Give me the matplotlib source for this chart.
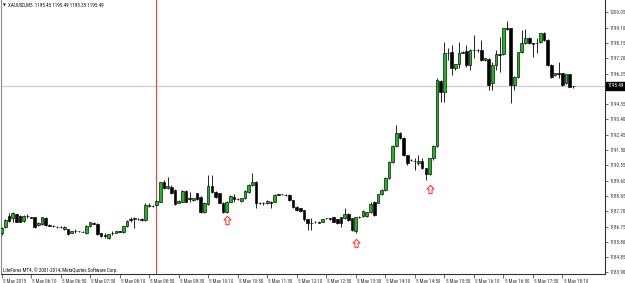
import matplotlib
matplotlib.use("Agg")
import matplotlib.pyplot as plt
import matplotlib.transforms as mtransforms
from matplotlib import font_manager as fm
from matplotlib.path import Path

# ---------------- data (XAUUSD M5, 5 May 2015 05:30 .. 18:25) ----------------
opens = [
    1186.33, 1186.70, 1187.40, 1187.26, 1187.50, 1187.40, 1187.11, 1187.40, 1187.32, 1187.32,
    1186.84, 1186.90, 1187.30, 1186.86, 1186.78, 1186.74, 1186.72, 1186.59, 1186.57, 1186.37,
    1186.46, 1186.45, 1186.43, 1186.33, 1186.78, 1186.95, 1186.90, 1186.33, 1186.20, 1186.01,
    1186.37, 1186.37, 1186.44, 1186.40, 1186.78, 1187.19, 1187.19, 1187.22, 1187.20, 1187.15,
    1188.00, 1188.02, 1188.09, 1188.29, 1189.49, 1189.12, 1189.22, 1189.02, 1188.23, 1188.29,
    1188.97, 1188.50, 1188.40, 1188.81, 1188.60, 1187.67, 1188.15, 1189.26, 1188.91, 1188.81,
    1188.23, 1187.67, 1188.29, 1188.56, 1188.45, 1188.35, 1188.50, 1188.91, 1189.33, 1189.53,
    1188.23, 1188.23, 1188.19, 1188.29, 1188.29, 1188.75, 1188.75, 1188.71, 1188.71, 1188.39,
    1187.98, 1187.88, 1187.77, 1187.19, 1186.99, 1187.05, 1186.99, 1187.05, 1187.26, 1187.26,
    1187.32, 1187.19, 1187.32, 1187.26, 1187.52, 1187.26, 1186.49, 1187.36, 1187.40, 1187.42,
    1187.67, 1188.29, 1188.23, 1188.75, 1189.02, 1189.74, 1190.76, 1191.75, 1192.54, 1192.27,
    1191.19, 1190.88, 1190.82, 1190.71, 1190.82, 1190.36, 1190.01, 1190.98, 1191.75, 1195.81,
    1195.12, 1197.55, 1197.61, 1196.57, 1196.82, 1197.55, 1197.67, 1196.78, 1197.71, 1197.71,
    1197.71, 1197.09, 1197.13, 1195.64, 1196.78, 1197.44, 1197.44, 1199.06, 1199.06, 1195.54,
    1196.05, 1197.57, 1198.13, 1198.48, 1198.13, 1198.13, 1198.23, 1198.75, 1198.33, 1196.78,
    1196.16, 1196.26, 1196.26, 1195.64, 1196.20, 1195.45,
]
highs = [
    1186.70, 1187.20, 1187.61, 1187.67, 1187.55, 1187.45, 1187.45, 1187.50, 1187.36, 1187.36,
    1187.02, 1187.36, 1187.34, 1186.92, 1186.82, 1186.78, 1186.76, 1186.78, 1186.62, 1186.50,
    1186.60, 1186.50, 1186.48, 1186.82, 1187.05, 1187.00, 1186.95, 1186.36, 1186.33, 1186.30,
    1186.45, 1186.50, 1186.48, 1186.80, 1187.15, 1187.32, 1187.36, 1187.28, 1187.25, 1188.18,
    1188.20, 1188.10, 1188.40, 1189.53, 1189.64, 1189.84, 1189.30, 1189.05, 1188.40, 1189.02,
    1189.00, 1188.91, 1188.55, 1188.85, 1188.65, 1188.28, 1189.95, 1189.95, 1188.95, 1188.85,
    1188.28, 1188.33, 1188.68, 1188.75, 1188.50, 1188.55, 1189.00, 1189.40, 1190.05, 1189.60,
    1188.30, 1188.30, 1188.40, 1188.35, 1188.75, 1188.80, 1188.80, 1188.78, 1188.75, 1188.42,
    1188.02, 1187.92, 1187.80, 1187.22, 1187.26, 1187.10, 1187.08, 1187.22, 1187.30, 1187.30,
    1187.35, 1187.22, 1187.36, 1187.88, 1187.56, 1187.30, 1187.36, 1187.42, 1187.78, 1187.68,
    1188.25, 1188.33, 1188.80, 1189.08, 1189.80, 1190.82, 1191.80, 1193.05, 1192.60, 1192.30,
    1191.22, 1190.92, 1190.98, 1191.19, 1190.98, 1190.40, 1191.02, 1191.80, 1195.95, 1195.85,
    1198.23, 1197.81, 1198.02, 1196.86, 1198.23, 1197.66, 1198.02, 1197.75, 1198.64, 1197.75,
    1198.33, 1197.22, 1197.19, 1196.99, 1197.71, 1198.54, 1199.10, 1199.51, 1199.10, 1196.10,
    1197.62, 1198.95, 1199.02, 1198.52, 1198.16, 1198.44, 1198.80, 1198.85, 1198.38, 1196.82,
    1196.30, 1196.99, 1196.30, 1196.25, 1196.25, 1195.49,
]
lows = [
    1186.25, 1186.65, 1187.05, 1187.05, 1187.00, 1187.00, 1187.05, 1187.26, 1187.26, 1186.63,
    1186.80, 1186.86, 1186.80, 1186.76, 1186.72, 1186.68, 1186.66, 1186.55, 1186.24, 1186.33,
    1186.37, 1186.40, 1186.38, 1186.30, 1186.74, 1186.88, 1186.25, 1186.12, 1186.05, 1185.98,
    1186.22, 1186.35, 1186.38, 1186.37, 1186.74, 1187.05, 1186.63, 1187.15, 1187.12, 1187.10,
    1187.95, 1187.95, 1188.05, 1188.25, 1189.05, 1189.05, 1188.75, 1188.10, 1188.19, 1188.25,
    1188.25, 1188.29, 1188.35, 1188.39, 1187.62, 1187.62, 1188.10, 1188.85, 1188.55, 1188.19,
    1187.62, 1187.57, 1188.25, 1188.29, 1188.39, 1188.30, 1188.45, 1188.85, 1189.28, 1187.88,
    1188.15, 1188.10, 1188.15, 1187.88, 1188.25, 1188.68, 1188.68, 1188.62, 1188.35, 1187.92,
    1187.70, 1187.68, 1187.12, 1186.53, 1186.53, 1186.98, 1186.95, 1187.02, 1187.20, 1187.18,
    1187.00, 1186.92, 1186.74, 1187.22, 1187.10, 1186.49, 1186.32, 1187.28, 1187.36, 1187.36,
    1187.62, 1187.40, 1188.18, 1188.70, 1188.98, 1189.70, 1190.70, 1191.70, 1192.20, 1191.15,
    1190.57, 1190.80, 1190.26, 1190.57, 1190.30, 1189.64, 1189.95, 1190.90, 1191.70, 1194.50,
    1194.50, 1197.09, 1196.16, 1196.50, 1196.57, 1197.50, 1196.68, 1196.47, 1197.24, 1197.62,
    1197.05, 1197.05, 1195.23, 1195.23, 1196.47, 1196.37, 1197.40, 1198.95, 1194.40, 1195.23,
    1196.00, 1197.52, 1198.08, 1198.08, 1197.30, 1197.50, 1198.18, 1198.28, 1196.72, 1195.95,
    1196.12, 1195.95, 1195.45, 1195.60, 1195.40, 1195.35,
]
closes = [
    1186.65, 1187.15, 1187.11, 1187.57, 1187.05, 1187.05, 1187.40, 1187.38, 1187.30, 1186.74,
    1186.99, 1187.32, 1186.84, 1186.80, 1186.76, 1186.72, 1186.70, 1186.74, 1186.28, 1186.47,
    1186.48, 1186.44, 1186.42, 1186.78, 1187.01, 1186.93, 1186.28, 1186.18, 1186.18, 1186.28,
    1186.36, 1186.47, 1186.43, 1186.78, 1187.11, 1187.18, 1187.30, 1187.20, 1187.18, 1188.10,
    1188.06, 1188.00, 1188.34, 1189.49, 1189.12, 1189.26, 1188.81, 1188.15, 1188.35, 1188.97,
    1188.29, 1188.48, 1188.50, 1188.44, 1187.67, 1188.23, 1189.26, 1188.91, 1188.60, 1188.23,
    1187.67, 1188.29, 1188.64, 1188.44, 1188.43, 1188.50, 1188.95, 1189.33, 1189.53, 1188.19,
    1188.22, 1188.21, 1188.35, 1188.19, 1188.71, 1188.73, 1188.74, 1188.70, 1188.39, 1187.98,
    1187.77, 1187.73, 1187.19, 1186.95, 1186.98, 1187.04, 1187.05, 1187.19, 1187.25, 1187.24,
    1187.05, 1186.99, 1186.99, 1187.52, 1187.15, 1186.53, 1187.32, 1187.34, 1187.73, 1187.63,
    1188.15, 1187.46, 1188.75, 1189.02, 1189.74, 1190.76, 1191.75, 1192.54, 1192.27, 1191.19,
    1190.67, 1190.86, 1190.80, 1190.82, 1190.36, 1190.01, 1190.98, 1191.75, 1195.85, 1195.12,
    1197.55, 1197.53, 1196.57, 1196.82, 1197.55, 1197.61, 1196.78, 1197.71, 1197.69, 1197.69,
    1197.09, 1197.19, 1195.54, 1196.78, 1197.44, 1197.42, 1199.06, 1199.04, 1195.54, 1196.05,
    1197.57, 1198.13, 1198.44, 1198.13, 1198.11, 1198.12, 1198.75, 1198.33, 1196.78, 1196.05,
    1196.26, 1196.24, 1195.54, 1196.20, 1195.43, 1195.49,
]

price_ticks = [1183.90, 1184.85, 1185.80, 1186.75, 1187.70, 1188.65, 1189.60, 1190.55,
               1191.50, 1192.45, 1193.40, 1194.35, 1195.30, 1196.25, 1197.20, 1198.15,
               1199.10, 1200.05]
time_tick_bars = [0, 8, 16, 24, 32, 40, 48, 56, 64, 72, 80, 88, 96, 104, 112, 120,
                  128, 136, 144, 152]
time_tick_labels = ["5 May 2015", "5 May 06:10", "5 May 06:50", "5 May 07:30",
                    "5 May 08:10", "5 May 08:50", "5 May 09:30", "5 May 10:10",
                    "5 May 10:50", "5 May 11:30", "5 May 12:10", "5 May 12:50",
                    "5 May 13:30", "5 May 14:10", "5 May 14:50", "5 May 15:30",
                    "5 May 16:10", "5 May 16:50", "5 May 17:30", "5 May 18:10"]
arrow_bars = [61, 96, 116]
arrow_prices = [1187.15, 1185.72, 1189.10]
event_bar = 42
last_price = 1195.49
title_text = "XAUUSD,M5  1195.45 1195.49 1195.35 1195.49"
footer_text = "LiteForex MT4, \u00a9 2001-2014, MetaQuotes Software Corp."


# ---------------- font choice (narrow font if available) ----------------
def _available(name):
    try:
        fm.findfont(fm.FontProperties(family=name), fallback_to_default=False)
        return True
    except Exception:
        return False


_candidates = [("Liberation Sans Narrow", 4.15), ("DejaVu Sans Condensed", 3.4),
               ("Roboto Condensed", 3.7), ("Liberation Sans", 3.2),
               ("DejaVu Sans", 2.9)]
FONT_NAME, FS = "DejaVu Sans", 2.9
for _name, _size in _candidates:
    if _available(_name):
        FONT_NAME, FS = _name, _size
        break
FONT = [FONT_NAME, "DejaVu Sans"]

BULL = "#1cb81c"
BEAR = "#000000"

W, H = 625, 283
fig = plt.figure(figsize=(W / 100, H / 100), dpi=100)
fig.patch.set_facecolor("white")
ax = fig.add_axes([1 / W, 9 / H, 604 / W, 274 / H])
ax.set_facecolor("white")

ax.set_xlim(-0.14, 163.55)
ax.set_ylim(1183.80, 1200.82)

# current price line and event line
ax.axhline(last_price, color="#cfcfcf", lw=0.9, zorder=1)
ax.axvline(event_bar, color="#ff3b3b", lw=0.8, zorder=1)

# candles
xs = list(range(len(opens)))
ax.vlines(xs, lows, highs, colors="black", lw=0.6, zorder=2)
bodies_bottom = [min(o, c) for o, c in zip(opens, closes)]
bodies_height = [abs(c - o) for o, c in zip(opens, closes)]
body_colors = [BULL if c >= o else BEAR for o, c in zip(opens, closes)]
ax.bar(xs, bodies_height, bottom=bodies_bottom, width=0.72, color=body_colors,
       edgecolor="black", linewidth=0.45, zorder=3)

# arrows (hollow up arrows)
arrow_path = Path([(0, 1.0), (-0.85, 0.1), (-0.38, 0.1), (-0.38, -1.0), (0.38, -1.0),
                   (0.38, 0.1), (0.85, 0.1), (0, 1.0)],
                  [Path.MOVETO] + [Path.LINETO] * 6 + [Path.CLOSEPOLY])
ax.plot(arrow_bars, arrow_prices, linestyle="none", marker=arrow_path, markersize=6,
        markerfacecolor="white", markeredgecolor="#ff2a2a", markeredgewidth=0.7, zorder=4)

# spines
ax.spines["top"].set_visible(False)
ax.spines["left"].set_color("#8a8a8a")
ax.spines["left"].set_linewidth(0.8)
ax.spines["right"].set_color("#333333")
ax.spines["right"].set_linewidth(0.8)
ax.spines["bottom"].set_color("#333333")
ax.spines["bottom"].set_linewidth(0.8)

# right price axis
ax.yaxis.tick_right()
ax.set_yticks(price_ticks)
ax.set_yticklabels([f"{p:.2f}" for p in price_ticks], fontsize=FS, family=FONT,
                   color="#222222")
ax.tick_params(axis="y", length=2, width=0.5, pad=1.2, colors="#333333")

# time axis
ax.set_xticks(time_tick_bars)
ax.set_xticklabels(time_tick_labels, fontsize=FS, family=FONT, color="#222222")
ax.tick_params(axis="x", length=3, width=0.5, pad=0.6, colors="#333333")
offset = mtransforms.ScaledTranslation(1.2 / 100, 0, fig.dpi_scale_trans)
for lbl in ax.get_xticklabels():
    lbl.set_horizontalalignment("left")
    lbl.set_transform(lbl.get_transform() + offset)

# current price label box
ax.annotate(f"{last_price:.2f}", xy=(1.0, last_price),
            xycoords=("axes fraction", "data"), xytext=(1.6, 0),
            textcoords="offset points", ha="left", va="center",
            fontsize=FS, family=FONT, color="white", annotation_clip=False,
            bbox=dict(boxstyle="square,pad=0.3", facecolor="black", edgecolor="black"),
            zorder=10)

# header and footer texts
fig.text(3 / W, 1 - 5.5 / H, "\u25bc", fontsize=2.6, family=["DejaVu Sans"],
         color="#111111", va="center", ha="left")
fig.text(8 / W, 1 - 5.5 / H, title_text, fontsize=FS, family=FONT,
         color="#111111", va="center", ha="left")
fig.text(3 / W, 1 - 270 / H, footer_text, fontsize=FS, family=FONT,
         color="#111111", va="center", ha="left")

fig.savefig("out.png", dpi=100, facecolor="white")
